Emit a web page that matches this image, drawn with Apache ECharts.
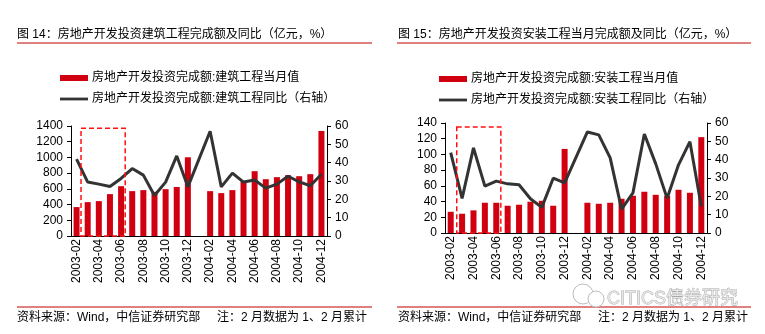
<!DOCTYPE html>
<html><head><meta charset="utf-8">
<script src="https://cdn.jsdelivr.net/npm/echarts@6/dist/echarts.min.js"></script>
<style>html,body{margin:0;padding:0;background:#fff}#c{width:765px;height:334px}</style>
</head><body><div id="c"></div>
<script>
const categories = ['2003-02','2003-03','2003-04','2003-05','2003-06','2003-07','2003-08','2003-09','2003-10','2003-11','2003-12','2004-01','2004-02','2004-03','2004-04','2004-05','2004-06','2004-07','2004-08','2004-09','2004-10','2004-11','2004-12'];
const buildMonthly = [368,431,444,533,634,571,584,562,596,624,1002,null,571,546,584,695,825,723,749,774,761,787,1337];
const buildYoY = [41.9,29.4,28.3,27.0,31.4,36.8,33.2,22.1,29.4,43.7,26.8,null,57.1,26.8,34.3,29.4,30.5,26.1,28.3,32.6,29.5,27.4,33.7];
const installMonthly = [27,24.5,28.8,38.5,38.5,34.7,36,39.8,41,34.7,107,null,38.5,37.2,38.5,43.6,47.4,52.5,48.6,47.4,55,51.2,122];
const installYoY = [43.9,18.9,46.4,25.6,28.3,26.8,26.3,18.7,14.0,29.9,27.4,null,55.1,53.5,41.0,13.0,21.9,54.0,37.7,18.9,37.2,49.8,14.5];
const leftTicks = {min:0,max:1400,interval:200};
const rightTicksA = {min:0,max:140,interval:20};
const yoyTicks = {min:0,max:60,interval:10};
const names = {
  b1:'房地产开发投资完成额:建筑工程当月值', l1:'房地产开发投资完成额:建筑工程同比（右轴）',
  b2:'房地产开发投资完成额:安装工程当月值', l2:'房地产开发投资完成额:安装工程同比（右轴）'
};
const titles = ['图 14：房地产开发投资建筑工程完成额及同比（亿元，%）','图 15：房地产开发投资安装工程当月完成额及同比（亿元，%）'];
const source = '资料来源：Wind，中信证券研究部     注：2 月数据为 1、2 月累计';
// highlighted window (category index range, value top) per panel
const boxA = {from:0.4, to:4.37, top:1370};
const boxB = {from:0.53, to:4.4, top:135};

const FONT = '"Liberation Sans", Arial, "Noto Sans CJK SC", sans-serif';
const RED = '#D00010';
const LINE = '#333333';
const chart = echarts.init(document.getElementById('c'));

function xAxis(gi){
  return {type:'category', gridIndex:gi, data:categories, boundaryGap:true,
    axisLine:{lineStyle:{color:'#000',width:1}},
    axisTick:{interval:1,length:3,lineStyle:{color:'#000'}},
    axisLabel:{interval:1,rotate:90,margin:3,color:'#000',fontSize:12,fontFamily:FONT}};
}
function yAxis(gi,t,pos){
  return {type:'value', gridIndex:gi, position:pos, min:t.min,max:t.max,interval:t.interval,
    splitLine:{show:false},
    axisLine:{show:true,lineStyle:{color:'#000',width:1}},
    axisTick:{show:true,length:4,lineStyle:{color:'#000'}},
    axisLabel:{margin:8,color:'#000',fontSize:12,fontFamily:FONT,formatter:function(v){return String(v);}}};
}
const lineIcon = 'path://M0 0H30V3H0Z';
function legend(left,top,bn,ln){
  return {left:left, top:top, orient:'vertical', padding:0, itemGap:9, itemWidth:28, itemHeight:6,
    textStyle:{color:'#000',fontSize:12,fontFamily:FONT,padding:[0,0,0,-1]}, selectedMode:false,
    data:[{name:bn,icon:'rect'},{name:ln,icon:lineIcon}]};
}
function hline(x1,x2,y){return {type:'line',shape:{x1:x1,y1:y,x2:x2,y2:y},style:{stroke:'#C00000',lineWidth:1}};}
function text(x,y,s){return {type:'text',x:x,y:y,style:{text:s,fill:'#000',font:'12px '+FONT,textVerticalAlign:'middle'}};}

chart.setOption({
  animation:false,
  grid:[{left:71,right:438,top:126,bottom:98},{left:445,right:58,top:123,bottom:101}],
  xAxis:[xAxis(0),xAxis(1)],
  yAxis:[yAxis(0,leftTicks,'left'),yAxis(0,yoyTicks,'right'),yAxis(1,rightTicksA,'left'),yAxis(1,yoyTicks,'right')],
  legend:[legend(60,72,names.b1,names.l1),legend(439,73,names.b2,names.l2)],
  series:[
    {name:names.b1,type:'bar',xAxisIndex:0,yAxisIndex:0,data:buildMonthly,barWidth:6,itemStyle:{color:RED}},
    {name:names.l1,type:'line',xAxisIndex:0,yAxisIndex:1,data:buildYoY,connectNulls:true,showSymbol:false,symbol:'none',lineStyle:{color:LINE,width:3},itemStyle:{color:LINE},z:5},
    {name:names.b2,type:'bar',xAxisIndex:1,yAxisIndex:2,data:installMonthly,barWidth:6,itemStyle:{color:RED}},
    {name:names.l2,type:'line',xAxisIndex:1,yAxisIndex:3,data:installYoY,connectNulls:true,showSymbol:false,symbol:'none',lineStyle:{color:LINE,width:3},itemStyle:{color:LINE},z:5}
  ]
});

function boxRect(xi,yi,box){
  const c0 = chart.convertToPixel({xAxisIndex:xi,yAxisIndex:yi},[0,0]);
  const c1 = chart.convertToPixel({xAxisIndex:xi,yAxisIndex:yi},[1,box.top]);
  const band = c1[0]-c0[0];
  const x1 = c0[0]+box.from*band, x2 = c0[0]+box.to*band;
  return {type:'rect',shape:{x:x1,y:c1[1],width:x2-x1,height:c0[1]-c1[1]},
    style:{fill:'none',stroke:'#FF1010',lineWidth:1.5,lineDash:[5,3]},z:10};
}

chart.setOption({graphic:[
  text(17,35,titles[0]), hline(17,372,43),
  text(398,35,titles[1]), hline(397,751,43),
  hline(17,372,307), text(17,318,source),
  hline(397,751,307), text(398,318,source),
  boxRect(0,0,boxA), boxRect(1,2,boxB),
  {type:'circle',shape:{cx:583,cy:294,r:10},style:{fill:'none',stroke:'#bbbbbb',lineWidth:1},z:1},
  {type:'circle',shape:{cx:596,cy:299,r:8},style:{fill:'#fff',stroke:'#bbbbbb',lineWidth:1},z:1},
  {type:'text',x:607,y:299,style:{text:'CITICS债券研究',fill:'#e6e6e6',stroke:'#a8a8a8',lineWidth:0.8,font:'18px '+FONT,textVerticalAlign:'middle'},z:1}
]});
</script></body></html>
